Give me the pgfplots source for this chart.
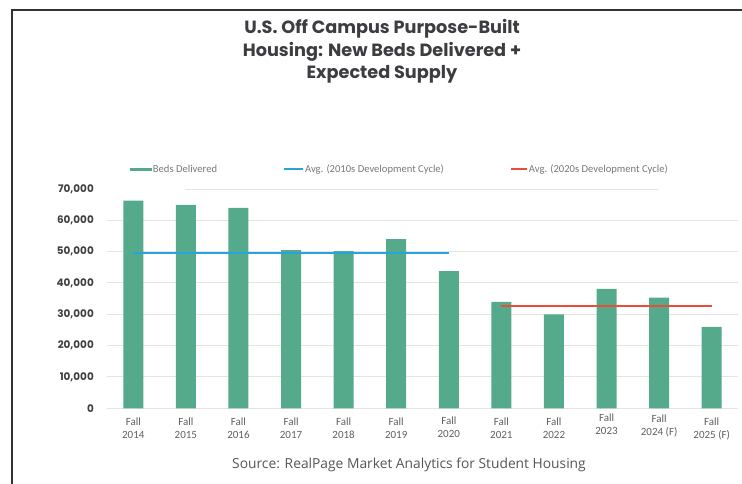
\documentclass[border=0pt]{standalone}
\usepackage{pgfplots}
\pgfplotsset{compat=1.18}
\usepackage{fontspec}
\setmainfont{Poppins}
\newfontfamily\carl{Carlito}
\newfontfamily\osans{Open Sans}
\definecolor{barg}{RGB}{86,170,140}
\definecolor{avgblue}{RGB}{40,163,222}
\definecolor{avgred}{RGB}{234,78,56}
\definecolor{framec}{RGB}{50,50,50}
\definecolor{titlec}{RGB}{62,60,64}
\definecolor{tickc}{RGB}{64,64,64}
\definecolor{xlabc}{RGB}{95,95,95}
\definecolor{legc}{RGB}{120,120,120}
\definecolor{gridc}{RGB}{228,228,228}
\definecolor{srcc}{RGB}{85,85,85}
\newcommand\xl[2][0pt]{\raisebox{#1}[\height][\depth]{\begin{tabular}{@{}c@{}}Fall\\#2\end{tabular}}}
\begin{document}
\begin{tikzpicture}
\useasboundingbox (0pt,0pt) rectangle (742pt,483pt);
\draw[line width=2pt, framec] (11.8pt,-3pt) -- (11.8pt,472.7pt) -- (746pt,472.7pt);
\node[anchor=base, font=\bfseries\fontsize{17.7}{20}\selectfont, text=titlec] at (382pt,449pt) {U.S. Off Campus Purpose-Built};
\node[anchor=base, font=\bfseries\fontsize{17.7}{20}\selectfont, text=titlec] at (382pt,426.3pt) {Housing: New Beds Delivered +};
\node[anchor=base, font=\bfseries\fontsize{17.7}{20}\selectfont, text=titlec] at (382pt,404pt) {Expected Supply};
\begin{axis}[
  at={(107pt,74.7pt)}, anchor=south west,
  scale only axis, width=631pt, height=219.3pt,
  xmin=-0.5, xmax=11.5, ymin=0, ymax=70000,
  axis line style={draw=none}, tick style={draw=none},
  ytick={0,10000,20000,30000,40000,50000,60000},
  extra y ticks={70000}, extra y tick style={grid=none},
  ymajorgrids, grid style={gridc, line width=1pt},
  scaled y ticks=false,
  /pgf/number format/fixed, /pgf/number format/1000 sep={,}, /pgf/number format/assume math mode=true,
  yticklabel style={font=\bfseries\fontsize{10.4}{12}\selectfont, text=tickc, inner sep=0pt, xshift=-13pt, anchor=east},
  xtick={0,...,11},
  xticklabels={{\xl{2014}},{\xl{2015}},{\xl{2016}},{\xl{2017}},{\xl{2018}},{\xl{2019}},{\xl[1pt]{2020}},{\xl{2021}},{\xl{2022}},{\xl[3.5pt]{2023}},{\xl[2.5pt]{2024 (F)}},{\xl[-0.5pt]{2025 (F)}}},
  xticklabel style={font=\carl\fontsize{11}{13}\selectfont, text=xlabc, inner sep=0pt, yshift=-7.5pt},
  legend columns=3,
  legend style={at={(axis description cs:0.036,1.089)}, anchor=west, draw=none, fill=none, inner sep=0pt,
    font=\carl\fontsize{10.6}{12}\selectfont, text=legc,
    nodes={inner sep=1pt},
    /tikz/every even column/.append style={column sep=65pt}},
  legend cell align=left,
]
\addplot[ybar, bar width=20pt, fill=barg, draw=none,
  legend image code/.code={\fill[barg] (0pt,-1.6pt) rectangle (22pt,1.6pt);}]
  coordinates {(0,66300) (1,64900) (2,64000) (3,50500) (4,50200) (5,54000) (6,43800) (7,34000) (8,30000) (9,38100) (10,35300) (11,26000)};
\addlegendentry{Beds Delivered}
\addplot[avgblue, line width=2.5pt, no marks,
  legend image code/.code={\draw[avgblue, line width=2pt] (0pt,0pt) -- (19pt,0pt);}]
  coordinates {(0,49600) (6,49600)};
\addlegendentry{Avg. (2010s Development Cycle)}
\addplot[avgred, line width=2.5pt, no marks,
  legend image code/.code={\draw[avgred, line width=2pt] (0pt,0pt) -- (16pt,0pt);}]
  coordinates {(7,32600) (11,32600)};
\addlegendentry{Avg. (2020s Development Cycle)}
\addplot[gridc, line width=1pt, no marks, forget plot] coordinates {(0.98,70000) (9.98,70000)};
\end{axis}
\node[anchor=base, font=\osans\fontsize{13.8}{16}\selectfont, text=srcc] at (409pt,14.7pt) {Source: RealPage Market Analytics for Student Housing};
\end{tikzpicture}
\end{document}
